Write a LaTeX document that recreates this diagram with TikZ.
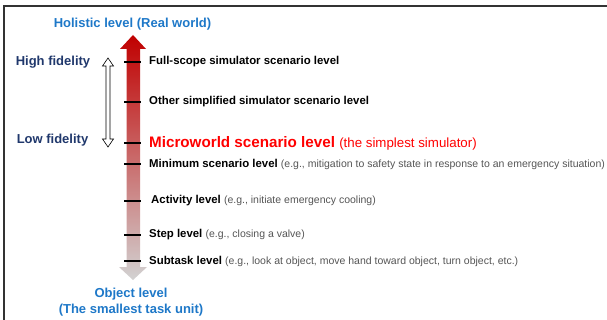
\documentclass[tikz,border=0pt]{standalone}
\usepackage{fontspec}
\setmainfont{Liberation Sans}
\definecolor{holblue}{RGB}{30,120,200}
\definecolor{fidnavy}{RGB}{32,56,108}
\definecolor{notegray}{RGB}{85,85,85}
\definecolor{toparrow}{RGB}{192,0,0}
\definecolor{botarrow}{RGB}{210,210,210}
\newcommand{\lvlnote}[1]{{\fontsize{10.5}{12}\selectfont\mdseries\color{notegray}#1}}

\begin{document}
\begin{tikzpicture}[
  x=1pt,y=-1pt,
  lvl/.style={anchor=west,inner sep=0pt,font=\fontsize{11.4}{13}\selectfont\bfseries},
  side/.style={font=\fontsize{13}{15.5}\selectfont\bfseries,inner sep=0pt},
  tick/.style={line width=1.4pt}]
  \useasboundingbox (0,0) rectangle (607,320);
  % frame: only the top and left edges show
  \draw[black!80,line width=1.2pt] (4,320) -- (4,6) -- (607,6);

  % level arrow, red at the real world end, grey at the object end
  \shade[top color=toparrow,bottom color=botarrow]
    (133,35) -- (146,49) -- (140,49) -- (140,267) -- (147,267) -- (133,280)
    -- (119,267) -- (126.5,267) -- (126.5,49) -- (120,49) -- cycle;
  \foreach \y in {62,102,143,164,201,235,261}
    \draw[tick] (124,\y) -- (141,\y);

  % fidelity arrow
  \draw[fill=white,line width=.6pt] (108,58) -- (113.5,66) -- (110,66)
    -- (110,139) -- (113.5,139) -- (108,147) -- (102.5,139) -- (106,139)
    -- (106,66) -- (102.5,66) -- cycle;

  \node[side,text=holblue] (holistic) at (132.5,24) {Holistic level (Real world)};
  \node[side,text=holblue,align=center] (object) at (131,302)
    {Object level\\(The smallest task unit)};
  \node[side,text=fidnavy] (high) at (53,62) {High fidelity};
  \node[side,text=fidnavy] (low) at (52.5,140) {Low fidelity};

  \node[lvl] (full) at (149,62) {Full-scope simulator scenario level};
  \node[lvl] (other) at (149,102) {Other simplified simulator scenario level};
  \node[lvl,text=red,font=\fontsize{15.2}{18}\selectfont\bfseries] (micro) at (149,143)
    {Microworld scenario level {\fontsize{13.3}{16}\selectfont\mdseries (the simplest simulator)}};
  \node[lvl] (mini) at (149,164) {Minimum scenario level
    \lvlnote{(e.g., mitigation to safety state in response to an emergency situation)}};
  \node[lvl] (act) at (151,201) {Activity level \lvlnote{(e.g., initiate emergency cooling)}};
  \node[lvl] (stp) at (149,235) {Step level \lvlnote{(e.g., closing a valve)}};
  \node[lvl] (sub) at (149,261) {Subtask level
    \lvlnote{(e.g., look at object, move hand toward object, turn object, etc.)}};
\end{tikzpicture}
\end{document}
